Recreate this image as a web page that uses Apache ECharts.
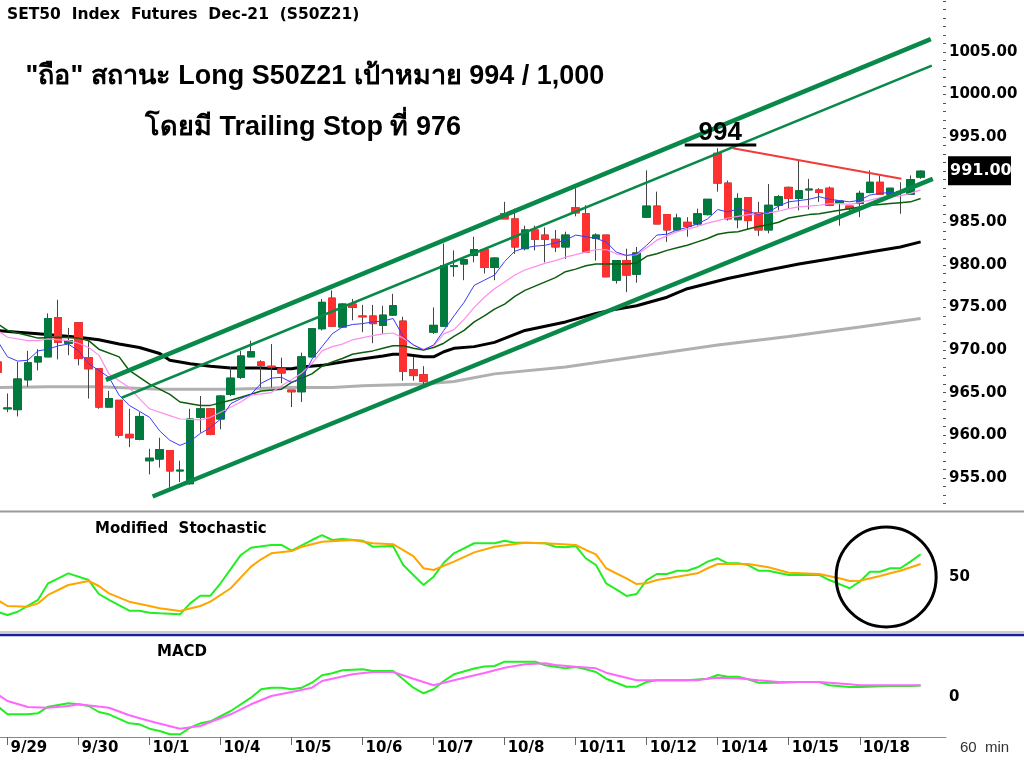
<!DOCTYPE html>
<html><head><meta charset="utf-8">
<script src="https://cdn.jsdelivr.net/npm/echarts@6/dist/echarts.min.js"></script>
<style>html,body{margin:0;padding:0;background:#fff}#c{width:1024px;height:761px}</style>
</head><body><div id="c"></div>
<script>
const dayLabels = ['9/28','9/29','9/30','10/1','10/4','10/5','10/6','10/7','10/8','10/11','10/12','10/14','10/15','10/18'];
const barsPerDay = [1,7,7,7,7,7,7,7,7,7,7,7,7,7];
const emptySlots = 2;

const opens  = [968.6,963.1,963.0,966.5,968.6,969.2,973.8,970.8,973.2,969.1,967.8,963.3,964.1,960.1,959.5,957.0,957.2,958.2,955.8,954.3,962.1,963.1,961.9,964.8,966.8,969.2,968.6,968.1,967.8,965.3,965.1,969.2,972.5,976.1,972.7,975.4,974.0,974.0,972.9,974.1,973.4,967.7,967.1,972.1,972.8,979.8,980.1,981.1,981.8,979.7,986.0,985.4,981.9,984.1,983.5,983.0,982.1,986.7,986.0,983.1,983.5,978.2,980.5,978.9,985.6,986.9,985.9,984.1,985.0,984.8,985.9,993.1,989.6,985.3,987.9,986.1,984.1,987.0,989.1,987.8,988.8,988.8,989.0,987.3,986.9,987.2,988.5,989.7,988.3,988.5,988.3,990.3];
const closes = [967.4,963.2,966.6,968.5,969.2,973.7,970.9,971.1,969.0,967.8,963.3,964.3,960.0,959.7,962.2,957.3,958.3,955.8,955.9,961.9,963.1,960.1,964.6,966.7,969.3,969.8,968.2,968.0,967.3,965.1,969.2,972.5,975.6,972.8,975.4,975.0,973.9,973.1,974.1,975.2,967.5,967.0,966.3,972.9,979.9,979.9,980.6,981.8,979.7,980.8,985.4,982.1,984.1,983.0,983.0,982.1,983.5,986.1,981.5,983.5,978.6,980.5,978.8,981.4,986.9,984.8,984.1,985.5,984.5,986.0,987.7,989.6,985.4,987.8,985.2,984.1,987.0,988.0,987.8,988.7,988.9,988.5,987.0,987.5,986.6,988.4,989.7,988.3,989.0,988.6,990.0,991.0];
const lows   = [967.0,962.7,962.2,965.7,967.6,969.2,968.9,969.4,968.2,964.3,963.1,963.3,959.7,958.6,959.4,955.4,956.2,953.5,954.5,954.2,960.3,960.0,960.7,964.6,966.6,969.2,965.6,965.6,966.1,963.3,963.9,969.1,972.3,972.7,972.6,973.5,972.1,970.8,971.9,974.0,966.4,966.4,965.6,971.9,972.7,978.6,978.2,980.3,979.0,978.2,985.4,981.3,981.7,981.7,980.3,981.5,980.7,985.7,981.5,980.5,978.6,977.8,976.8,977.9,985.5,984.8,982.7,984.1,983.3,984.6,985.8,988.6,985.2,984.3,984.1,983.4,983.7,986.4,986.6,986.4,986.5,987.4,986.9,984.6,986.2,985.6,988.4,988.3,988.0,986.0,988.3,990.1];
const highs  = [969.0,964.9,968.6,969.9,970.1,974.3,975.9,972.6,973.2,971.3,967.8,965.2,964.1,963.1,962.7,958.4,959.7,958.2,957.0,963.1,964.6,963.2,964.7,968.0,969.9,971.1,968.8,970.7,969.1,965.3,969.7,972.5,976.0,977.0,975.5,976.0,975.3,975.3,975.2,976.6,973.9,969.2,968.1,975.0,982.5,981.7,980.7,983.3,981.9,980.9,987.4,986.6,984.6,984.6,984.4,984.1,983.9,989.0,987.0,983.7,983.5,980.5,981.9,982.1,991.1,988.6,985.9,986.0,985.6,986.6,987.7,993.7,989.9,988.4,987.9,987.4,989.5,988.2,989.2,992.3,990.1,989.0,989.2,987.6,986.9,988.7,991.1,990.5,989.0,989.7,990.5,991.1];

const maBlue = [[0,971.1],[1,969.2],[2,968.7],[3,968.8],[4,969.9],[5,970.1],[6,970.5],[7,970.7],[8,969.9],[9,968.4],[10,967.6],[11,966.8],[12,964.7],[13,963.5],[14,962.8],[15,962.1],[16,960.5],[17,959.4],[18,958.8],[19,959.3],[20,960.2],[21,960.9],[22,961.9],[23,963.7],[24,964.3],[25,964.8],[26,966.1],[27,966.7],[28,966.8],[29,966.2],[30,966.6],[31,968.9],[32,970.4],[33,971.9],[34,972.7],[35,973.0],[36,973.1],[37,973.3],[38,973.4],[39,973.7],[40,971.6],[41,970.6],[42,970.0],[43,970.6],[44,972.3],[45,974.0],[46,975.6],[47,977.6],[48,978.2],[49,978.8],[50,980.4],[51,981.6],[52,982.0],[53,982.2],[54,982.3],[55,982.6],[56,982.9],[57,983.5],[58,983.3],[59,983.1],[60,982.7],[61,981.5],[62,981.1],[63,981.3],[64,982.3],[65,983.5],[66,983.6],[67,984.1],[68,984.4],[69,984.8],[70,985.4],[71,986.5],[72,986.2],[73,986.6],[74,986.3],[75,985.9],[76,986.2],[77,986.9],[78,987.4],[80,987.7],[81,988.0],[82,987.7],[84,987.4],[85,987.6],[86,988.2],[87,988.4],[88,988.5],[89,988.5],[90,989.0],[91,989.5]];
const maPink = [[0,972.3],[1,971.5],[3,971.1],[4,971.1],[5,971.3],[7,971.1],[8,970.8],[9,970.3],[10,969.4],[11,967.2],[13,965.6],[14,964.3],[15,963.1],[17,962.3],[18,961.9],[20,961.8],[21,962.1],[22,962.7],[24,963.9],[25,964.7],[27,965.0],[28,965.8],[29,966.5],[30,967.3],[31,968.4],[32,969.9],[33,970.4],[34,970.7],[35,971.2],[37,971.7],[38,971.9],[39,972.0],[40,971.4],[41,970.6],[42,970.1],[43,970.5],[44,971.9],[45,972.4],[46,973.6],[47,975.0],[48,976.2],[49,977.2],[50,978.0],[51,978.8],[52,979.4],[53,979.8],[54,980.2],[55,980.5],[56,980.9],[57,981.2],[58,981.5],[59,981.8],[60,981.8],[61,981.3],[62,981.1],[63,981.2],[64,982.0],[65,982.9],[66,983.4],[67,983.9],[68,984.2],[69,984.5],[70,984.9],[71,985.2],[72,985.5],[73,985.7],[74,985.9],[75,986.0],[76,986.1],[77,986.3],[78,986.6],[79,986.8],[80,986.9],[81,987.0],[82,987.2],[83,987.2],[84,987.1],[85,987.3],[86,987.6],[87,987.9],[88,988.0],[89,988.1],[90,988.4],[91,988.8]];
const maGreen = [[0,973.1],[1,972.3],[3,971.7],[4,971.4],[6,971.5],[8,971.4],[9,971.1],[10,970.1],[12,969.2],[13,967.6],[15,966.0],[17,964.8],[18,963.9],[20,963.5],[21,963.5],[23,964.1],[25,964.8],[26,965.2],[28,965.4],[29,966.2],[30,966.7],[31,967.2],[32,968.1],[33,968.6],[34,969.0],[35,969.5],[36,969.7],[37,969.9],[38,970.2],[39,970.5],[40,970.5],[41,970.2],[42,970.0],[43,970.3],[44,970.8],[45,971.6],[46,972.3],[47,973.3],[48,974.0],[49,974.8],[50,975.4],[51,976.3],[52,977.0],[53,977.5],[54,978.0],[55,978.5],[56,979.2],[57,979.5],[58,979.9],[59,980.1],[60,980.1],[61,980.1],[62,980.1],[63,980.2],[64,981.0],[65,981.3],[66,981.7],[67,982.0],[68,982.3],[69,982.7],[70,983.1],[71,983.6],[72,983.8],[73,983.9],[74,984.2],[75,984.5],[76,984.7],[77,985.0],[78,985.5],[79,985.7],[80,985.9],[81,986.0],[82,986.2],[83,986.4],[84,986.6],[85,986.8],[86,987.0],[87,987.1],[88,987.2],[89,987.3],[90,987.4],[91,987.8]];
const maBlack = [[0,972.3],[2,972.1],[4,971.9],[6,971.7],[8,971.5],[10,971.2],[12,970.7],[14,970.3],[16,969.6],[17,968.8],[19,968.4],[21,968.1],[23,967.9],[26,967.9],[28,967.8],[29,967.8],[30,968.0],[32,968.2],[35,968.8],[38,969.3],[39,969.5],[40,969.5],[42,969.2],[43,969.2],[44,969.8],[45,970.2],[47,970.4],[49,970.9],[52,972.3],[56,973.3],[59,974.3],[61,974.8],[63,975.2],[66,976.2],[68,977.2],[72,978.4],[76,979.4],[79,980.1],[82,980.7],[86,981.5],[89,982.1],[91,982.7]];
const maGray = [[0,965.6],[5,965.7],[10,965.7],[16,965.4],[23,965.4],[29,965.6],[33,965.6],[36,965.8],[42,966.0],[45,966.3],[49,967.2],[56,968.0],[63,969.2],[71,970.6],[78,971.6],[85,972.7],[91,973.7]];

const channelUpper = [[10.7,966.5],[92.0,1006.5]];
const channelMid   = [[12.25,964.4],[92.1,1003.4]];
const channelLower = [[15.3,952.8],[92.2,990.1]];
const resistance   = [[72.5,993.7],[89.1,990.1]];
const targetMark   = [[67.75,994.06],[74.8,994.06]];

const stochK = [[0,17.8],[1,14.8],[2,17.8],[4,28.7],[5,44.1],[7,53.3],[9,47.1],[10,34.2],[11,28.7],[13,18.8],[14,18.8],[15,16.9],[16,16.3],[18,15.4],[19,25.5],[20,32.6],[21,32.6],[22,44.1],[24,70.3],[25,77.0],[27,79.5],[28,79.5],[29,74.2],[31,84.1],[32,88.7],[33,84.1],[34,85.0],[36,83.5],[37,77.9],[39,78.6],[40,61.0],[42,42.5],[43,50.2],[44,63.1],[45,71.8],[47,81.1],[49,81.1],[50,83.5],[51,81.6],[52,81.6],[54,81.1],[55,77.9],[56,77.4],[57,78.6],[58,67.2],[59,61.0],[60,44.1],[61,38.5],[62,32.4],[63,34.2],[64,47.1],[65,52.7],[66,52.7],[67,55.7],[68,55.7],[69,58.9],[70,64.1],[71,67.2],[72,62.6],[73,62.6],[74,61.0],[75,55.7],[76,55.7],[78,51.8],[79,51.8],[81,51.8],[82,47.1],[83,43.4],[84,39.5],[85,45.6],[86,54.8],[87,54.8],[88,58.0],[89,58.0],[90,64.1],[91,70.9]];
const stochD = [[0,28.7],[1,23.1],[3,22.5],[4,25.5],[5,33.3],[7,42.5],[9,46.2],[10,41.6],[11,34.8],[13,27.1],[15,23.1],[16,21.0],[18,18.5],[20,23.1],[21,27.1],[23,39.5],[25,59.5],[26,66.3],[27,71.8],[29,73.9],[30,77.9],[32,82.5],[35,84.1],[37,81.1],[39,80.2],[41,69.3],[42,58.0],[43,56.4],[45,64.1],[47,72.7],[49,77.9],[51,80.4],[52,81.6],[54,81.1],[57,79.5],[58,74.9],[59,70.9],[60,58.0],[62,48.7],[63,43.4],[64,44.1],[65,47.1],[67,50.2],[69,53.3],[70,58.0],[71,61.9],[74,61.9],[76,58.9],[78,53.9],[81,52.7],[83,48.7],[84,46.2],[85,46.5],[87,50.8],[88,53.3],[89,55.7],[91,61.9]];
const macdLine = [[0,-0.9],[1,-1.73],[3,-1.73],[4,-1.63],[5,-0.97],[7,-0.63],[8,-0.73],[9,-0.9],[10,-1.5],[11,-1.73],[13,-2.63],[14,-2.73],[15,-3.17],[16,-3.4],[17,-3.73],[18,-3.73],[19,-3.07],[20,-2.63],[21,-2.43],[23,-1.4],[25,-0.07],[26,0.77],[27,0.93],[28,0.93],[29,0.77],[30,0.93],[31,1.43],[32,2.17],[33,2.37],[34,2.67],[36,2.77],[37,2.6],[39,2.6],[40,1.77],[41,0.93],[42,0.37],[43,0.77],[44,1.6],[45,2.27],[47,2.85],[48,3.05],[49,3.1],[50,3.53],[51,3.53],[53,3.53],[54,3.17],[56,2.87],[57,3.0],[58,2.77],[59,2.5],[60,1.83],[61,1.43],[62,1.03],[63,1.03],[64,1.5],[65,1.67],[66,1.67],[68,1.67],[70,1.83],[71,2.2],[72,2.03],[73,2.03],[74,1.77],[75,1.43],[77,1.43],[79,1.5],[81,1.5],[82,1.17],[84,1.0],[85,1.0],[88,1.1],[90,1.1],[91,1.15]];
const macdSignal = [[0,0.27],[1,-0.4],[3,-1.0],[5,-1.07],[7,-0.9],[8,-0.73],[11,-1.07],[13,-1.83],[15,-2.4],[18,-3.17],[20,-2.9],[21,-2.5],[23,-1.73],[25,-0.73],[27,0.1],[29,0.5],[31,0.93],[32,1.6],[35,2.27],[37,2.5],[39,2.5],[41,1.83],[43,1.17],[44,1.43],[46,1.93],[48,2.4],[50,2.93],[52,3.27],[54,3.37],[55,3.2],[57,3.03],[59,2.87],[60,2.43],[62,1.93],[63,1.67],[65,1.67],[69,1.67],[70,1.83],[71,1.93],[73,1.87],[75,1.67],[77,1.5],[81,1.5],[84,1.27],[85,1.17],[88,1.17],[91,1.17]];

const priceLabels = [955,960,965,970,975,980,985,995,1000,1005];
const priceMajorTicks = [955,960,965,970,975,980,985,990,995,1000,1005,1010];
const priceMinorTicks = [];
for (let v = 952; v <= 1011; v++) priceMinorTicks.push(v);
const stochLabels = [50];
const stochTicks = [5,10,15,20,25,30,35,40,45,50,55,60,65,70,75,80,85,90,95,100,105];
const macdLabels = [0];
const macdTicks = [-3,-2,-1,0,1,2,3,4,5];
const lastPrice = 991.0;

// category slots
const cats = [];
dayLabels.forEach((d, i) => { for (let k = 0; k < barsPerDay[i]; k++) cats.push(d); });
for (let k = 0; k < emptySlots; k++) cats.push('');
const N = cats.length;
const isDayStart = (i) => i > 0 && cats[i] !== '' && cats[i] !== cats[i - 1];

const candleFull = opens.map((o, i) => [o, closes[i], lows[i], highs[i]]);
const candleBody = opens.map((o, i) => [o, closes[i], Math.min(o, closes[i]), Math.max(o, closes[i])]);

const BOLD = '"DejaVu Sans", sans-serif';
const GREEN = '#007a3d', RED = '#ff3030';

const chart = echarts.init(document.getElementById('c'), null, { renderer: 'canvas' });

function lineS(data, color, width, xi, yi, z) {
  return { type: 'line', data, xAxisIndex: xi, yAxisIndex: yi, symbol: 'none', silent: true,
    lineStyle: { color, width }, z: z || 3, animation: false, connectNulls: true };
}

const option = {
  animation: false,
  backgroundColor: '#fff',
  grid: [
    { left: -7.7, right: 78, top: 0, height: 511, outerBoundsMode: 'none', containLabel: false },
    { left: -7.7, right: 78, top: 512, height: 119, outerBoundsMode: 'none', containLabel: false },
    { left: -7.7, right: 78, top: 637, height: 100, outerBoundsMode: 'none', containLabel: false }
  ],
  xAxis: [
    { type: 'category', gridIndex: 0, data: cats, boundaryGap: true, axisLine: { show: false }, axisTick: { show: false }, axisLabel: { show: false }, splitLine: { show: false } },
    { type: 'value', gridIndex: 0, min: -0.5, max: N - 0.5, show: false },
    { type: 'value', gridIndex: 1, min: -0.5, max: N - 0.5, show: false },
    { type: 'category', gridIndex: 2, data: cats, boundaryGap: true, position: 'bottom',
      axisLine: { show: true, onZero: false, lineStyle: { color: '#888', width: 1 } },
      axisTick: { show: true, alignWithLabel: true, interval: (i) => isDayStart(i), length: 8, lineStyle: { color: '#666' } },
      axisLabel: { show: true, interval: (i) => isDayStart(i), align: 'left', padding: [0, 0, 0, 3], margin: 4,
        fontFamily: BOLD, fontWeight: 'bold', fontSize: 15, color: '#000' },
      splitLine: { show: false } },
    { type: 'value', gridIndex: 2, min: -0.5, max: N - 0.5, show: false }
  ],
  yAxis: [
    { type: 'value', gridIndex: 0, position: 'right', min: 951.1, max: 1011.1, scale: true,
      axisLine: { show: true, lineStyle: { color: '#555', width: 1.5 } },
      axisTick: { show: true, inside: true, length: 6, customValues: priceMajorTicks, lineStyle: { color: '#555' } },
      axisLabel: { show: true, customValues: priceLabels, formatter: (v) => Number(v).toFixed(2), margin: 3,
        fontFamily: BOLD, fontWeight: 'bold', fontSize: 15, color: '#000' },
      splitLine: { show: false } },
    { type: 'value', gridIndex: 0, position: 'right', min: 951.1, max: 1011.1, scale: true,
      axisLine: { show: false },
      axisTick: { show: true, inside: true, length: 3, customValues: priceMinorTicks, lineStyle: { color: '#555' } },
      axisLabel: { show: false }, splitLine: { show: false } },
    { type: 'value', gridIndex: 1, position: 'right', min: 0, max: 110,
      axisLine: { show: true, lineStyle: { color: '#555', width: 1.5 } },
      axisTick: { show: true, inside: true, length: 3, customValues: stochTicks, lineStyle: { color: '#555' } },
      axisLabel: { show: true, customValues: stochLabels, margin: 3, fontFamily: BOLD, fontWeight: 'bold', fontSize: 15, color: '#000' },
      splitLine: { show: false } },
    { type: 'value', gridIndex: 2, position: 'right', min: -4, max: 6,
      axisLine: { show: true, lineStyle: { color: '#555', width: 1.5 } },
      axisTick: { show: true, inside: true, length: 3, customValues: macdTicks, lineStyle: { color: '#555' } },
      axisLabel: { show: true, customValues: macdLabels, margin: 3, fontFamily: BOLD, fontWeight: 'bold', fontSize: 15, color: '#000' },
      splitLine: { show: false } }
  ],
  series: [
    lineS(maGray, '#b0b0b0', 3, 1, 0, 2),
    lineS(maBlack, '#000', 3, 1, 0, 2),
    { type: 'candlestick', xAxisIndex: 0, yAxisIndex: 0, data: candleFull, barWidth: 8, silent: true, z: 3,
      itemStyle: { color: '#444', color0: '#444', borderColor: '#444', borderColor0: '#444', borderWidth: 1 } },
    { type: 'candlestick', xAxisIndex: 0, yAxisIndex: 0, data: candleBody, barWidth: 8, silent: true, z: 4,
      itemStyle: { color: GREEN, color0: RED, borderColor: GREEN, borderColor0: RED, borderWidth: 1 } },
    lineS(maGreen, '#0b5e0b', 1.5, 1, 0, 5),
    lineS(maPink, '#ff8cf0', 1.2, 1, 0, 5),
    lineS(maBlue, '#3a3aff', 1, 1, 0, 5),
    lineS(channelUpper, '#08894a', 4.5, 1, 0, 6),
    lineS(channelMid, '#08894a', 2.5, 1, 0, 6),
    lineS(channelLower, '#08894a', 4.5, 1, 0, 6),
    lineS(resistance, '#f23a3a', 2, 1, 0, 6),
    lineS(targetMark, '#000', 3, 1, 0, 6),
    lineS(stochK, '#22ee22', 2, 2, 2, 3),
    lineS(stochD, '#ffa500', 2, 2, 2, 4),
    lineS(macdLine, '#22ee22', 2, 4, 3, 3),
    lineS(macdSignal, '#ff66ff', 2, 4, 3, 4)
  ],
  graphic: []
};
chart.setOption(option);

const circC = chart.convertToPixel({ xAxisIndex: 2, yAxisIndex: 2 }, [87.6, 50]);
const peakP = chart.convertToPixel({ xAxisIndex: 1, yAxisIndex: 0 }, [71.25, 994.06]);
const lastP = chart.convertToPixel({ xAxisIndex: 1, yAxisIndex: 0 }, [N - 0.5, lastPrice]);

chart.setOption({
  graphic: [
    { type: 'line', silent: true, z: 10, shape: { x1: 0, y1: 511.5, x2: 1024, y2: 511.5 }, style: { stroke: '#9a9a9a', lineWidth: 2 } },
    { type: 'line', silent: true, z: 10, shape: { x1: 0, y1: 632, x2: 1024, y2: 632 }, style: { stroke: '#9a9a9a', lineWidth: 1 } },
    { type: 'line', silent: true, z: 10, shape: { x1: 0, y1: 635, x2: 1024, y2: 635 }, style: { stroke: '#1c1ca0', lineWidth: 2.5 } },
    { type: 'text', silent: true, z: 10, x: 7, y: 15, style: { text: 'SET50  Index  Futures  Dec-21  (S50Z21)', font: 'bold 15.5px "DejaVu Sans", sans-serif', fill: '#000', align: 'left', verticalAlign: 'middle' } },
    { type: 'text', silent: true, z: 10, x: 315, y: 77, style: { text: '"ถือ" สถานะ Long S50Z21 เป้าหมาย 994 / 1,000', font: 'bold 27px "Liberation Sans", "Noto Sans", sans-serif', fill: '#000', align: 'center', verticalAlign: 'middle' } },
    { type: 'text', silent: true, z: 10, x: 303, y: 128, style: { text: 'โดยมี Trailing Stop ที่ 976', font: 'bold 27px "Liberation Sans", "Noto Sans", sans-serif', fill: '#000', align: 'center', verticalAlign: 'middle' } },
    { type: 'text', silent: true, z: 10, x: peakP[0], y: peakP[1] - 12, style: { text: '994', font: 'bold 26px "Liberation Sans", sans-serif', fill: '#000', align: 'center', verticalAlign: 'middle' } },
    { type: 'text', silent: true, z: 10, x: 95, y: 529, style: { text: 'Modified  Stochastic', font: 'bold 15px "DejaVu Sans", sans-serif', fill: '#000', align: 'left', verticalAlign: 'middle' } },
    { type: 'text', silent: true, z: 10, x: 157, y: 652, style: { text: 'MACD', font: 'bold 15px "DejaVu Sans", sans-serif', fill: '#000', align: 'left', verticalAlign: 'middle' } },
    { type: 'text', silent: true, z: 10, x: 960, y: 748, style: { text: '60  min', font: '15px "Liberation Sans", sans-serif', fill: '#333', align: 'left', verticalAlign: 'middle' } },
    { type: 'rect', silent: true, z: 20, shape: { x: lastP[0] + 2, y: lastP[1] - 15, width: 63, height: 29 }, style: { fill: '#000' } },
    { type: 'text', silent: true, z: 21, x: lastP[0] + 4, y: lastP[1], style: { text: lastPrice.toFixed(2), font: 'bold 16px "DejaVu Sans", sans-serif', fill: '#fff', align: 'left', verticalAlign: 'middle' } },
    { type: 'circle', silent: true, z: 10, shape: { cx: circC[0], cy: circC[1], r: 50 }, style: { fill: 'none', stroke: '#000', lineWidth: 3 } }
  ]
});
</script></body></html>
